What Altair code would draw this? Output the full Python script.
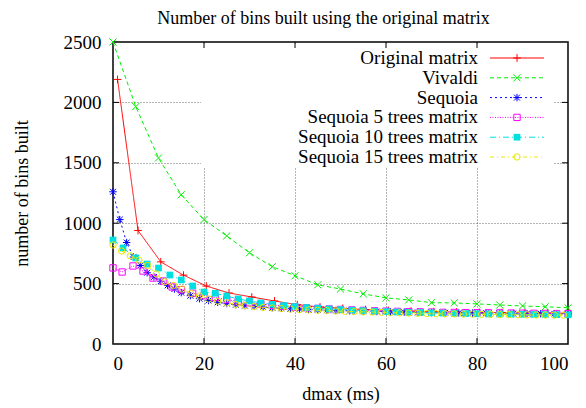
import altair as alt
import pandas as pd

# ---------------- data ----------------
names = ["Original matrix", "Vivaldi", "Sequoia", "Sequoia 5 trees matrix",
         "Sequoia 10 trees matrix", "Sequoia 15 trees matrix"]

orig_x = [1, 5.5, 10.5, 15.5, 20.5, 25.5, 30.5, 35.5, 40.5, 45.5, 50.5, 55.5, 60.5,
          65.5, 70.5, 75.5, 80.5, 85.5, 90.5, 95.5, 100]
orig_y = [2190, 940, 680, 570, 480, 422, 389, 356, 325, 306, 295, 285, 278, 272, 268,
          265, 262, 260, 258, 256, 255]

viv_x = [0, 5, 10, 15, 20, 25, 30, 35, 40, 45, 50, 55, 60, 65, 70, 75, 80, 85, 90, 95, 100]
viv_y = [2500, 1965, 1540, 1235, 1030, 895, 755, 640, 565, 490, 455, 415, 382, 365, 342,
         340, 332, 323, 315, 308, 300]

seq_x = [0, 1.5, 3, 4.5, 6, 7.5, 9, 10.5, 12, 13.5, 15, 17, 19, 21, 23, 25, 27, 29, 31, 33,
         35, 37, 39, 41, 43, 45, 47, 49, 52, 55, 58, 61, 64, 67, 70, 73, 76, 79, 82, 85, 88,
         91, 94, 97, 100]
seq_y = [1260, 1030, 840, 720, 650, 590, 555, 520, 485, 455, 425, 400, 375, 360, 345, 335,
         325, 318, 312, 306, 300, 296, 292, 289, 286, 283, 280, 278, 275, 272, 269, 266, 264,
         262, 260, 258, 257, 256, 255, 254, 253, 252, 251, 250, 249]

s5_x = [0, 2, 4.4, 6.6, 8.8, 11, 13, 15, 17.5, 20, 22.5, 25, 27.5, 30, 32.5, 35, 37.5, 40,
        42.5, 45, 47.5, 50, 52.5, 55, 57.5, 60, 62.5, 65, 67.5, 70, 72.5, 75, 77.5, 80, 82.5,
        85, 87.5, 90, 92.5, 95, 97.5, 100]
s5_y = [630, 596, 646, 604, 546, 521, 472, 450, 420, 400, 385, 368, 352, 340, 330, 320, 312,
        306, 300, 295, 290, 286, 282, 278, 275, 272, 270, 268, 266, 264, 262, 261, 260, 259,
        258, 257, 256, 255, 254, 253, 252, 251]

s10_x = [0, 2.2, 5, 7.5, 10, 12.5, 15, 17.5, 20, 22.5, 25, 27.5, 30, 32.5, 35, 37.5, 40,
         42.5, 45, 47.5, 50, 52.5, 55, 57.5, 60, 62.5, 65, 67.5, 70, 72.5, 75, 77.5, 80, 82.5,
         85, 87.5, 90, 92.5, 95, 97.5, 100]
s10_y = [861, 795, 712, 662, 629, 571, 530, 480, 430, 420, 397, 373, 356, 340, 328, 318, 310,
         302, 296, 290, 285, 280, 276, 272, 268, 265, 262, 260, 258, 256, 254, 252, 250, 249,
         248, 247, 246, 245, 244, 243, 242]

s15_x = [0, 1.9, 3.8, 5.7, 7.6, 9.5, 11.4, 13.3, 15.2, 17.1, 19, 21, 23, 25, 27, 29, 31, 33,
         35, 37, 39, 41, 43, 45, 47, 49, 51, 53, 55, 57, 59, 61, 63, 65, 67, 69, 71, 73, 75,
         77, 79, 81, 83, 85, 87, 89, 91, 93, 95, 97, 99]
s15_y = [820, 770, 730, 695, 650, 580, 515, 485, 455, 418, 397, 373, 355, 340, 328, 318, 310,
         303, 298, 293, 289, 285, 282, 279, 276, 273, 270, 268, 266, 264, 262, 260, 258, 256,
         254, 252, 251, 250, 249, 248, 247, 246, 245, 244, 243, 242, 241, 240, 240, 239, 239]

xs = [orig_x, viv_x, seq_x, s5_x, s10_x, s15_x]
ys = [orig_y, viv_y, seq_y, s5_y, s10_y, s15_y]

x_ticks = [0, 20, 40, 60, 80, 100]
y_ticks = [0, 500, 1000, 1500, 2000, 2500]

# ---------------- styles ----------------
colors = ["#ff0000", "#00ee00", "#0000ff", "#ff00ff", "#00e0e0", "#e8e800"]
dashes = [[1, 0], [4, 3], [2, 3], [1, 1.5], [6, 3, 1, 3], [4, 3, 1, 3]]
PLUS = "M-1,0H1M0,-1V1"
XSH = "M-1,-1L1,1M-1,1L1,-1"
AST = "M-1,0H1M0,-1V1M-0.8,-0.8L0.8,0.8M-0.8,0.8L0.8,-0.8"
shapes = [PLUS, XSH, AST, "square", "square", "circle"]
filled = [False, False, False, False, True, False]
sizes = [60, 50, 55, 40, 45, 40]

W, H = 455, 302
FONT = "Liberation Serif, Times New Roman, serif"

xscale = alt.Scale(domain=[0, 100], nice=False)
yscale = alt.Scale(domain=[0, 2500], nice=False)

xaxis = alt.Axis(values=x_ticks, title="dmax (ms)", grid=True, ticks=False, domain=False,
                 format="d", labelPadding=10, titlePadding=12,
                 gridDash=[1, 2], gridColor="#444", gridWidth=0.8)
yaxis = alt.Axis(values=y_ticks, title="number of bins built", grid=True, ticks=False,
                 domain=False, format="d", labelPadding=12, titlePadding=32,
                 gridDash=[1, 2], gridColor="#444", gridWidth=0.8)


def X(field):
    return alt.X(field, scale=xscale, axis=xaxis)


def Y(field):
    return alt.Y(field, scale=yscale, axis=yaxis)


layers = []

# invisible base to carry the axes
base_df = pd.DataFrame({"x": [0, 100], "y": [0, 2500]})
layers.append(alt.Chart(base_df).mark_point(opacity=0).encode(x=X("x:Q"), y=Y("y:Q")))

# white box of the key
layers.append(alt.Chart(base_df.head(1)).mark_rect(color="white").encode(
    x=alt.value(88), x2=alt.value(440), y=alt.value(2), y2=alt.value(126)))

# inward ticks
xt = pd.DataFrame({"x": x_ticks[1:-1]})
yt = pd.DataFrame({"y": y_ticks[1:-1]})
for y0, y1 in [(H, H - 6), (0, 6)]:
    layers.append(alt.Chart(xt).mark_rule(color="black", strokeWidth=1).encode(
        x=X("x:Q"), y=alt.value(y0), y2=alt.value(y1)))
for x0, x1 in [(0, 6), (W, W - 6)]:
    layers.append(alt.Chart(yt).mark_rule(color="black", strokeWidth=1).encode(
        y=Y("y:Q"), x=alt.value(x0), x2=alt.value(x1)))

for i, name in enumerate(names):
    df = pd.DataFrame({"x": xs[i], "y": ys[i]})
    layers.append(alt.Chart(df).mark_line(color=colors[i], strokeWidth=1,
                                          strokeDash=dashes[i]).encode(
        x=X("x:Q"), y=Y("y:Q")))
    layers.append(alt.Chart(df).mark_point(shape=shapes[i], color=colors[i],
                                           filled=filled[i], size=sizes[i],
                                           strokeWidth=1, opacity=1).encode(
        x=X("x:Q"), y=Y("y:Q")))
    # key entry
    ly = 16 + i * 19.8
    one = pd.DataFrame({"label": [name]})
    layers.append(alt.Chart(one).mark_text(align="right", baseline="middle", font=FONT,
                                           fontSize=19, color="black").encode(
        text="label:N", x=alt.value(365), y=alt.value(ly)))
    layers.append(alt.Chart(one).mark_rule(color=colors[i], strokeWidth=1,
                                           strokeDash=dashes[i]).encode(
        x=alt.value(377), x2=alt.value(431), y=alt.value(ly)))
    layers.append(alt.Chart(one).mark_point(shape=shapes[i], color=colors[i],
                                            filled=filled[i], size=sizes[i],
                                            strokeWidth=1, opacity=1).encode(
        x=alt.value(404), y=alt.value(ly)))

chart = alt.layer(*layers).properties(
    width=W, height=H,
    title=alt.Title("Number of bins built using the original matrix", font=FONT,
                    fontSize=18, fontWeight="normal", color="black", offset=5, dx=-17),
    autosize=alt.AutoSizeParams(type="none"),
    padding={"left": 105, "top": 34, "right": 10, "bottom": 64},
).configure(font=FONT).configure_view(stroke="black", strokeWidth=1.5).configure_axis(
    labelFont=FONT, labelFontSize=19, labelColor="black",
    titleFont=FONT, titleFontSize=18, titleFontWeight="normal", titleColor="black",
).configure_text(font=FONT)

chart.save("out.html", embed_options={"renderer": "svg", "actions": False})
